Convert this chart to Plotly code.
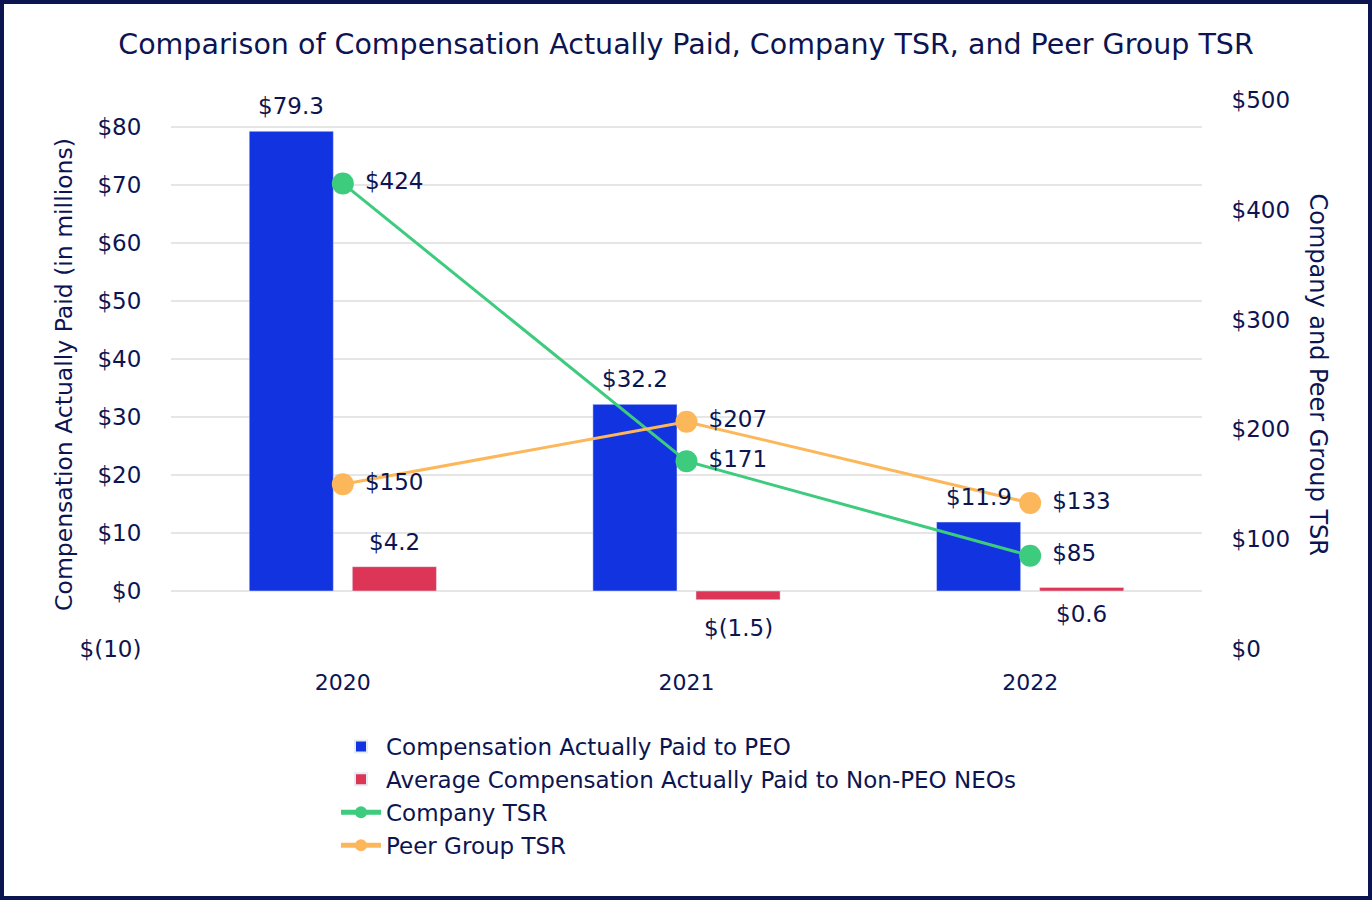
import plotly.graph_objects as go

years = ["2020", "2021", "2022"]
peo_cap = [79.3, 32.2, 11.9]
neo_cap = [4.2, -1.5, 0.6]
company_tsr = [424, 171, 85]
peer_tsr = [150, 207, 133]

left_ticks = [-10, 0, 10, 20, 30, 40, 50, 60, 70, 80]
left_text = ["$(10)", "$0", "$10", "$20", "$30", "$40", "$50", "$60", "$70", "$80"]
right_ticks = [0, 100, 200, 300, 400, 500]
right_text = ["$0", "$100", "$200", "$300", "$400", "$500"]

NAVY = "#0C1452"
BLUE = "#1233E0"
RED = "#DC3556"
GREEN = "#3DCB7E"
ORANGE = "#FDB75B"
FONT = "DejaVu Sans"

W, H = 1372, 900
ML, MR, MT, MB = 171, 170, 100, 251
PW, PH = W - ML - MR, H - MT - MB
BARGAP, GROUPGAP = 0.40, 0.184


def fmt_money(v):
    return f"$({abs(v):.1f})" if v < 0 else f"${v:.1f}"


fig = go.Figure()
fig.add_trace(go.Bar(
    x=years, y=peo_cap, name="Compensation Actually Paid to PEO",
    marker_color=BLUE, cliponaxis=False,
))
fig.add_trace(go.Bar(
    x=years, y=neo_cap, name="Average Compensation Actually Paid to Non-PEO NEOs",
    marker_color=RED, cliponaxis=False,
))
fig.add_trace(go.Scatter(
    x=years, y=company_tsr, name="Company TSR", yaxis="y2",
    mode="lines+markers+text", line=dict(color=GREEN, width=3),
    marker=dict(size=22, color=GREEN),
    text=[" $" + str(v) for v in company_tsr], textposition="middle right",
    textfont=dict(size=23, color=NAVY, family=FONT), cliponaxis=False,
))
fig.add_trace(go.Scatter(
    x=years, y=peer_tsr, name="Peer Group TSR", yaxis="y2",
    mode="lines+markers+text", line=dict(color=ORANGE, width=3),
    marker=dict(size=22, color=ORANGE),
    text=[" $" + str(v) for v in peer_tsr], textposition="middle right",
    textfont=dict(size=23, color=NAVY, family=FONT), cliponaxis=False,
))

# bar value labels
slot = PW / len(years) * (1 - BARGAP) / 2
for series, side in ((peo_cap, -1), (neo_cap, 1)):
    for i, v in enumerate(series):
        if v < 0:
            yv, dy = v, -28
        elif v < 1:
            yv, dy = 0, -23
        else:
            yv, dy = v, 25
        fig.add_annotation(
            x=i, y=yv, xref="x", yref="y",
            text=fmt_money(v), showarrow=False,
            xanchor="center", yanchor="middle",
            xshift=side * slot / 2, yshift=dy,
            font=dict(size=23, color=NAVY, family=FONT),
        )

fig.add_annotation(
    x=(1318 - ML) / PW, y=0.5, xref="paper", yref="paper",
    xanchor="center", yanchor="middle",
    text="Company and Peer Group TSR", textangle=90, showarrow=False,
    font=dict(size=24, color=NAVY, family=FONT),
)

# page border
fig.add_shape(
    type="rect", xref="paper", yref="paper",
    x0=-(ML - 2) / PW, x1=1 + (MR - 2) / PW,
    y0=-(MB - 2) / PH, y1=1 + (MT - 2) / PH,
    line=dict(color=NAVY, width=4), layer="above",
)

fig.update_layout(
    width=W, height=H,
    margin=dict(l=ML, r=MR, t=MT, b=MB, autoexpand=False),
    paper_bgcolor="white", plot_bgcolor="white",
    font=dict(family=FONT, color=NAVY, size=22),
    title=dict(text="Comparison of Compensation Actually Paid, Company TSR, and Peer Group TSR",
               x=0.5, xanchor="center", y=1 - 44 / H, yanchor="middle",
               font=dict(size=28.5, color=NAVY, family=FONT)),
    barmode="group", bargap=BARGAP, bargroupgap=GROUPGAP,
    xaxis=dict(type="category", range=[-0.5, 2.5], showgrid=False, zeroline=False,
               showline=False, ticks="outside", ticklen=14, tickcolor="rgba(0,0,0,0)",
               tickfont=dict(size=22, color=NAVY)),
    yaxis=dict(range=[-10, 84.7], tickvals=left_ticks, ticktext=left_text,
               showgrid=True, gridcolor="#E6E6E6", gridwidth=2, zeroline=False,
               ticks="outside", ticklen=24, tickcolor="rgba(0,0,0,0)",
               tickfont=dict(size=23, color=NAVY),
               title=dict(text="Compensation Actually Paid (in millions)", standoff=0,
                          font=dict(size=23.5, color=NAVY))),
    yaxis2=dict(range=[0, 500], tickvals=right_ticks, ticktext=right_text,
                overlaying="y", side="right", showgrid=False, zeroline=False,
                ticks="outside", ticklen=24, tickcolor="rgba(0,0,0,0)",
                tickfont=dict(size=23, color=NAVY)),
    legend=dict(x=(336 - ML) / PW, y=-(725 - MT - PH) / PH, xanchor="left", yanchor="top",
                orientation="v", font=dict(size=23, color=NAVY), tracegroupgap=0,
                itemsizing="constant", itemwidth=40, bgcolor="rgba(0,0,0,0)"),
    showlegend=True,
)

fig.write_html("out.html", config={"displayModeBar": False},
               post_script="document.body.style.margin='0';document.body.style.overflow='hidden';")
